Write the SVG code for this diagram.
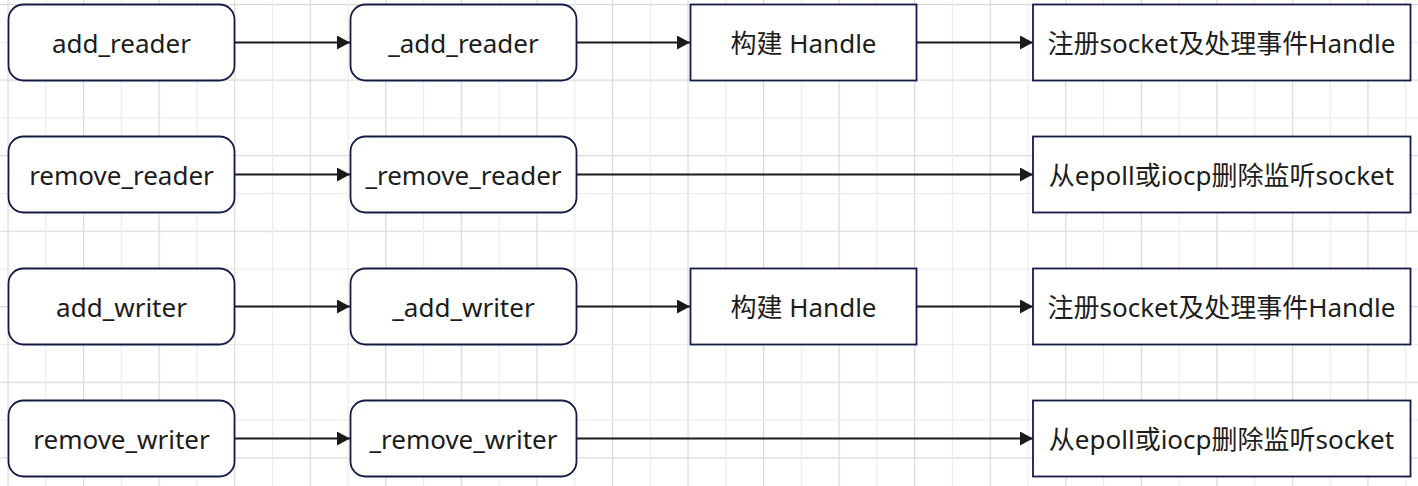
<svg xmlns="http://www.w3.org/2000/svg" width="1418" height="486" viewBox="0 0 1418 486">
  <defs>
    <pattern id="grid" patternUnits="userSpaceOnUse" x="7.5" y="4" width="75.55" height="75.55">
      <rect x="0" y="0" width="1.2" height="75.55" fill="#d8d8d8"/>
      <rect x="0" y="0" width="75.55" height="1.2" fill="#d8d8d8"/>
      <rect x="37.78" y="0" width="1.2" height="75.55" fill="#ebebeb"/>
      <rect x="0" y="37.78" width="75.55" height="1.2" fill="#ebebeb"/>
    </pattern>
    <marker id="arrow" viewBox="0 0 13 14" refX="13" refY="7" markerWidth="13" markerHeight="14" markerUnits="userSpaceOnUse" orient="auto">
      <path d="M0,0 L13,7 L0,14 Z" fill="#1a1a1a"/>
    </marker>
    <style>
      .r { fill: #ffffff; stroke: #141b45; stroke-width: 1.8; }
      .t { font-family: "Noto Sans", "Noto Sans CJK SC", sans-serif; font-size: 26px; fill: #1c1c1c; text-anchor: middle; }
      .c { stroke: #1a1a1a; stroke-width: 1.8; fill: none; marker-end: url(#arrow); }
    </style>
  </defs>
  <rect x="0" y="0" width="1418" height="486" fill="#ffffff"/>
  <rect x="0" y="0" width="1418" height="486" fill="url(#grid)"/>

  <g id="connectors">
    <line class="c" x1="235" y1="42.5" x2="350" y2="42.5"/>
    <line class="c" x1="577" y1="42.5" x2="690" y2="42.5"/>
    <line class="c" x1="917" y1="42.5" x2="1033" y2="42.5"/>
    <line class="c" x1="235" y1="174.5" x2="350" y2="174.5"/>
    <line class="c" x1="577" y1="174.5" x2="1033" y2="174.5"/>
    <line class="c" x1="235" y1="306.5" x2="350" y2="306.5"/>
    <line class="c" x1="577" y1="306.5" x2="690" y2="306.5"/>
    <line class="c" x1="917" y1="306.5" x2="1033" y2="306.5"/>
    <line class="c" x1="235" y1="438.5" x2="350" y2="438.5"/>
    <line class="c" x1="577" y1="438.5" x2="1033" y2="438.5"/>
  </g>

  <g id="add_reader">
    <rect class="r" x="8.5" y="4.5" width="226" height="76" rx="15" ry="15"/>
    <text class="t" x="121.5" y="52.5">add_reader</text>
  </g>
  <g id="_add_reader">
    <rect class="r" x="350.5" y="4.5" width="226" height="76" rx="15" ry="15"/>
    <text class="t" x="463.5" y="52.5">_add_reader</text>
  </g>
  <g id="build_handle_1">
    <rect class="r" x="690.5" y="4.5" width="226" height="76"/>
    <text class="t" x="803.5" y="52.5">构建 Handle</text>
  </g>
  <g id="register_1">
    <rect class="r" x="1033" y="4.5" width="377.5" height="76"/>
    <text class="t" x="1221.5" y="52.5">注册socket及处理事件Handle</text>
  </g>

  <g id="remove_reader">
    <rect class="r" x="8.5" y="136.5" width="226" height="76" rx="15" ry="15"/>
    <text class="t" x="121.5" y="184.5">remove_reader</text>
  </g>
  <g id="_remove_reader">
    <rect class="r" x="350.5" y="136.5" width="226" height="76" rx="15" ry="15"/>
    <text class="t" x="463.5" y="184.5">_remove_reader</text>
  </g>
  <g id="delete_1">
    <rect class="r" x="1033" y="136.5" width="377.5" height="76"/>
    <text class="t" x="1221.5" y="184.5">从epoll或iocp删除监听socket</text>
  </g>

  <g id="add_writer">
    <rect class="r" x="8.5" y="268.5" width="226" height="76" rx="15" ry="15"/>
    <text class="t" x="121.5" y="316.5">add_writer</text>
  </g>
  <g id="_add_writer">
    <rect class="r" x="350.5" y="268.5" width="226" height="76" rx="15" ry="15"/>
    <text class="t" x="463.5" y="316.5">_add_writer</text>
  </g>
  <g id="build_handle_2">
    <rect class="r" x="690.5" y="268.5" width="226" height="76"/>
    <text class="t" x="803.5" y="316.5">构建 Handle</text>
  </g>
  <g id="register_2">
    <rect class="r" x="1033" y="268.5" width="377.5" height="76"/>
    <text class="t" x="1221.5" y="316.5">注册socket及处理事件Handle</text>
  </g>

  <g id="remove_writer">
    <rect class="r" x="8.5" y="400.5" width="226" height="76" rx="15" ry="15"/>
    <text class="t" x="121.5" y="448.5">remove_writer</text>
  </g>
  <g id="_remove_writer">
    <rect class="r" x="350.5" y="400.5" width="226" height="76" rx="15" ry="15"/>
    <text class="t" x="463.5" y="448.5">_remove_writer</text>
  </g>
  <g id="delete_2">
    <rect class="r" x="1033" y="400.5" width="377.5" height="76"/>
    <text class="t" x="1221.5" y="448.5">从epoll或iocp删除监听socket</text>
  </g>
</svg>
